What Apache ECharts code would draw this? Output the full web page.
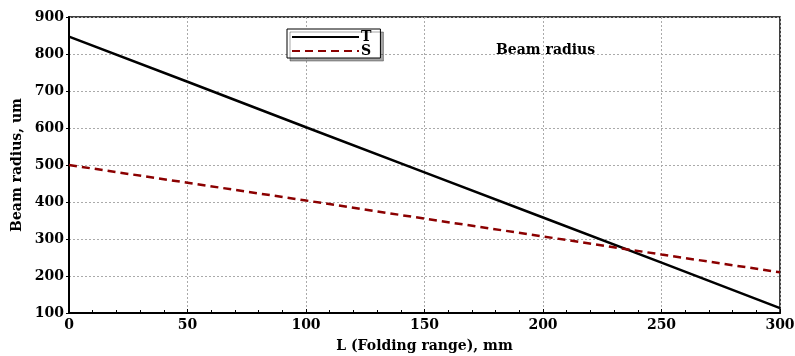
<!DOCTYPE html>
<html>
<head>
<meta charset="utf-8">
<script src="https://cdn.jsdelivr.net/npm/echarts@6/dist/echarts.min.js"></script>
<style>
  html, body { margin: 0; padding: 0; background: #fff; }
  #chart { width: 795px; height: 356px; }
</style>
</head>
<body>
<div id="chart"></div>
<script>
// L (Folding range), mm
const foldingRange = [0, 50, 100, 150, 200, 250, 300];
// beam radius, um
const radiusT = [847, 725, 602, 480, 358, 236, 113];
const radiusS = [500, 452, 404, 355, 307, 258, 210];

const font = "'DejaVu Serif', 'Liberation Serif', serif";

const chart = echarts.init(document.getElementById("chart"));

const toPairs = (xs, ys) => xs.map((x, i) => [x, ys[i]]);

const boldText = { fontFamily: font, fontWeight: "bold", fontSize: 14, color: "#000" };

chart.setOption({
  animation: false,
  backgroundColor: "#fff",
  textStyle: { fontFamily: font },
  grid: {
    left: 69, right: 15, top: 17, bottom: 43,
    outerBoundsMode: "none",
    show: true, borderColor: "#000", borderWidth: 1.5
  },
  title: {
    text: "Beam radius",
    left: 491, top: 38,
    textStyle: boldText
  },
  legend: {
    left: 287, top: 29,
    orient: "vertical",
    backgroundColor: "#fff",
    borderColor: "#000", borderWidth: 1,
    padding: [1, 9, 0, 4],
    itemWidth: 67, itemHeight: 11, itemGap: 0,
    shadowColor: "rgba(0,0,0,0.35)", shadowBlur: 0, shadowOffsetX: 3, shadowOffsetY: 3,
    itemStyle: { opacity: 0 },
    textStyle: Object.assign({}, boldText, { lineHeight: 12, padding: [0, 0, 0, -3] }),
    data: ["T", "S"]
  },
  xAxis: {
    type: "value", min: 0, max: 300, interval: 50,
    name: "L (Folding range), mm",
    nameLocation: "middle", nameGap: 26,
    nameTextStyle: boldText,
    axisLine: { lineStyle: { color: "#000", width: 2 } },
    axisTick: { show: true, inside: true, length: 4, lineStyle: { color: "#000" } },
    minorTick: { show: true, splitNumber: 5, length: 3, lineStyle: { color: "#000" } },
    axisLabel: Object.assign({}, boldText, { margin: 5 }),
    splitLine: { show: true, lineStyle: { color: "#aaa", type: [2, 2], width: 1 } }
  },
  yAxis: {
    type: "value", min: 100, max: 900, interval: 100,
    name: "Beam radius, um",
    nameLocation: "middle", nameGap: 38,
    nameTextStyle: boldText,
    axisLine: { show: true, lineStyle: { color: "#000", width: 2 } },
    axisTick: { show: true, length: 3, lineStyle: { color: "#000" } },
    axisLabel: Object.assign({}, boldText, { margin: 5 }),
    splitLine: { show: true, lineStyle: { color: "#aaa", type: [2, 2], width: 1 } }
  },
  series: [
    {
      name: "T", type: "line", symbol: "none",
      data: toPairs(foldingRange, radiusT),
      lineStyle: { color: "#000", width: 2.5 },
      itemStyle: { color: "#000" }
    },
    {
      name: "S", type: "line", symbol: "none",
      data: toPairs(foldingRange, radiusS),
      lineStyle: { color: "#8b0000", width: 2.5, type: [8, 5] },
      itemStyle: { color: "#8b0000" }
    }
  ]
});
</script>
</body>
</html>
